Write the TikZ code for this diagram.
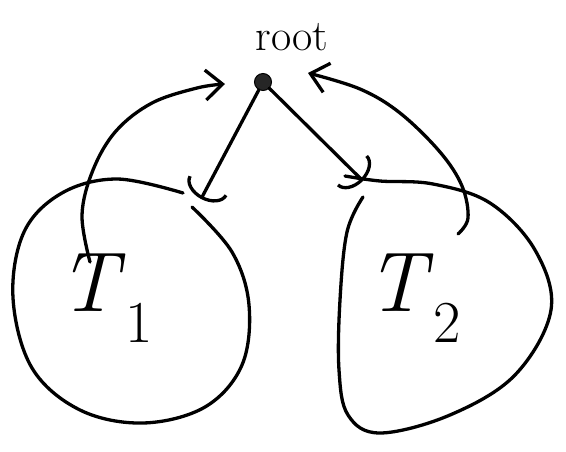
\documentclass[tikz,border=0pt]{standalone}
\usepackage{fontspec}
\usetikzlibrary{arrows.meta}
\begin{document}
\begin{tikzpicture}[x=1pt,y=-1pt,
  pen/.style={line width=3.3pt,line cap=round,line join=round},
  upbarb/.style={-{Straight Barb[length=17pt,width=30pt,line width=3.3pt]}},
  hook/.style={-{Arc Barb[length=15pt,width=44pt,line width=3.3pt]}},
  lbl/.style={inner sep=0pt,font=\fontsize{85}{85}\selectfont}]
\useasboundingbox (0,0) rectangle (566,451);
% root
\node[circle,draw,fill=black!85,line width=1pt,minimum size=17pt,inner sep=0pt] (root) at (263,82) {};
\node[anchor=base,inner sep=0pt] (rootlbl) at (292,50) {\fontsize{44}{44}\selectfont root};
% subtree labels
\node[lbl] (T1) at (106,298) {\textit{T}\textsubscript{1}};
\node[lbl] (T2) at (414,298) {\textit{T}\textsubscript{2}};
% subtree outlines
\draw[pen] plot[smooth,tension=0.6] coordinates {(192,207) (232,252) (249,305) (242,365) (205,407) (143,423) (80,410) (32,368) (13,298) (24,232) (62,193) (117,179) (183,193)};
\draw[pen] plot[smooth,tension=0.6] coordinates {(363,197) (347,232) (340,300) (339,370) (348,415) (380,433) (450,415) (515,375) (551,310) (535,250) (490,203) (433,184) (380,181) (345,176)};
% arrow end points
\coordinate (tipL) at (201,199);
\coordinate (tipR) at (363,181);
\coordinate (s1) at (90,262);
\coordinate (e1) at (225,84);
\coordinate (s2) at (458,234);
\coordinate (e2) at (308,73);
% connectors
\draw[pen,hook] (root) -- (tipL);
\draw[pen,hook] (root) -- (tipR);
\draw[pen,upbarb] plot[smooth,tension=0.6] coordinates {(s1) (82,215) (93,170) (116,131) (152,103) (197,88) (e1)};
\draw[pen,upbarb] plot[smooth,tension=0.6] coordinates {(s2) (468,218) (462,186) (440,152) (400,113) (360,89) (e2)};
\end{tikzpicture}
\end{document}
